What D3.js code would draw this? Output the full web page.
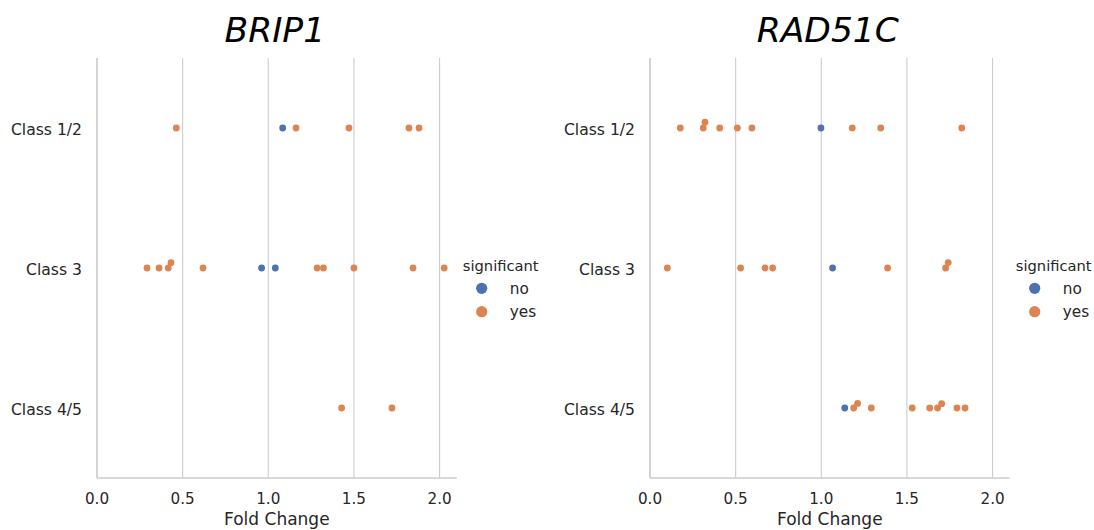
<!DOCTYPE html>
<html>
<head>
<meta charset="utf-8">
<script src="https://cdn.jsdelivr.net/npm/d3@7"></script>
<style>
  body { margin: 0; background: #fff; }
  text { font-family: "DejaVu Sans", sans-serif; fill: #262626; }
</style>
</head>
<body>
<svg id="chart" width="1094" height="530"></svg>
<script>
var classes = ["Class 1/2", "Class 3", "Class 4/5"];
var xTicks = [0, 0.5, 1.0, 1.5, 2.0];
var hueLevels = ["no", "yes"];
var hueColors = ["#4c72b0", "#dd8452"];

// BRIP1 variants
var brip1Class = [0, 0, 0, 0, 0, 0,
                  1, 1, 1, 1, 1, 1, 1, 1, 1, 1, 1, 1,
                  2, 2];
var brip1Fold  = [0.463, 1.084, 1.162, 1.471, 1.821, 1.880,
                  0.292, 0.362, 0.416, 0.432, 0.619, 0.961, 1.041, 1.285, 1.322, 1.500, 1.845, 2.027,
                  1.428, 1.722];
var brip1Sig   = ["yes", "no", "yes", "yes", "yes", "yes",
                  "yes", "yes", "yes", "yes", "yes", "no", "no", "yes", "yes", "yes", "yes", "yes",
                  "yes", "yes"];

// RAD51C variants
var rad51cClass = [0, 0, 0, 0, 0, 0, 0, 0, 0, 0,
                   1, 1, 1, 1, 1, 1, 1, 1,
                   2, 2, 2, 2, 2, 2, 2, 2, 2, 2];
var rad51cFold  = [0.177, 0.311, 0.321, 0.407, 0.510, 0.595, 0.998, 1.181, 1.347, 1.820,
                   0.101, 0.529, 0.671, 0.716, 1.066, 1.387, 1.726, 1.741,
                   1.137, 1.189, 1.212, 1.292, 1.531, 1.633, 1.679, 1.703, 1.792, 1.839];
var rad51cSig   = ["yes", "yes", "yes", "yes", "yes", "yes", "no", "yes", "yes", "yes",
                   "yes", "yes", "yes", "yes", "no", "yes", "yes", "yes",
                   "no", "yes", "yes", "yes", "yes", "yes", "yes", "yes", "yes", "yes"];

var svg = d3.select("#chart");
var yTop = 58, yBottom = 478, r = 3.4, minDist = 6;

function swarm(xs) {
  // simple beeswarm: place points in order of x, offset perpendicular to avoid overlap
  var order = d3.range(xs.length).sort(function(a, b) { return xs[a] - xs[b]; });
  var placed = [], offs = new Array(xs.length);
  order.forEach(function(i) {
    var cands = [0];
    placed.forEach(function(p) {
      var dx = xs[i] - p.x;
      if (Math.abs(dx) < minDist) {
        var dy = Math.sqrt(minDist * minDist - dx * dx);
        cands.push(p.y - dy, p.y + dy);
      }
    });
    cands.sort(function(a, b) { return Math.abs(a) - Math.abs(b) || a - b; });
    var best = cands.find(function(c) {
      return placed.every(function(p) {
        var dx = xs[i] - p.x, dy = c - p.y;
        return dx * dx + dy * dy >= minDist * minDist - 0.01;
      });
    });
    offs[i] = best;
    placed.push({x: xs[i], y: best});
  });
  return offs;
}

function panel(left, title, cls, fold, sig) {
  var x = d3.scaleLinear().domain([0, 2.1]).range([left, left + 359.7]);
  var y = d3.scaleBand().domain(classes).range([yTop, yBottom]);
  var g = svg.append("g");

  g.selectAll("line.grid").data(xTicks).enter().append("line")
    .attr("x1", function(d) { return x(d); }).attr("x2", function(d) { return x(d); })
    .attr("y1", yTop).attr("y2", yBottom)
    .attr("stroke", "#cccccc").attr("stroke-width", 1.1);

  g.append("line").attr("x1", x(0)).attr("x2", x(0)).attr("y1", yTop).attr("y2", yBottom)
    .attr("stroke", "#cccccc").attr("stroke-width", 1.3);
  g.append("line").attr("x1", x.range()[0]).attr("x2", x.range()[1]).attr("y1", yBottom).attr("y2", yBottom)
    .attr("stroke", "#cccccc").attr("stroke-width", 1.3);

  g.selectAll("text.xt").data(xTicks).enter().append("text")
    .attr("x", function(d) { return x(d); }).attr("y", 504)
    .attr("text-anchor", "middle").style("font-size", "15.2px")
    .text(function(d) { return d3.format(".1f")(d); });

  g.selectAll("text.yt").data(classes).enter().append("text")
    .attr("x", left - 15).attr("y", function(d) { return y(d) + y.bandwidth() / 2; })
    .attr("dy", "0.42em").attr("text-anchor", "end").style("font-size", "15.6px")
    .text(function(d) { return d; });

  g.append("text").attr("x", (x.range()[0] + x.range()[1]) / 2).attr("y", 525)
    .attr("text-anchor", "middle").style("font-size", "17px").text("Fold Change");

  g.append("text").attr("x", (x.range()[0] + x.range()[1]) / 2 - 2).attr("y", 42)
    .attr("text-anchor", "middle").style("font-size", "34.5px").style("font-style", "italic")
    .style("fill", "#000").text(title);

  var color = d3.scaleOrdinal().domain(hueLevels).range(hueColors);
  classes.forEach(function(c, ci) {
    var idx = d3.range(fold.length).filter(function(i) { return cls[i] === ci; });
    var px = idx.map(function(i) { return x(fold[i]); });
    var offs = swarm(px);
    idx.forEach(function(i, k) {
      g.append("circle")
        .attr("cx", px[k]).attr("cy", y(c) + y.bandwidth() / 2 + offs[k])
        .attr("r", r).attr("fill", color(sig[i]));
    });
  });

  // legend
  var lx = x.range()[1] + 25;
  g.append("text").attr("x", lx + 19).attr("y", 265.5).attr("dy", "0.35em")
    .attr("text-anchor", "middle").style("font-size", "14.7px").text("significant");
  hueLevels.forEach(function(h, i) {
    var ly = 288.3 + i * 23.4;
    g.append("circle").attr("cx", lx).attr("cy", ly).attr("r", 5.6).attr("fill", color(h));
    g.append("text").attr("x", lx + 28).attr("y", ly).attr("dy", "0.35em")
      .style("font-size", "15.3px").text(h);
  });
}

panel(97, "BRIP1", brip1Class, brip1Fold, brip1Sig);
panel(650, "RAD51C", rad51cClass, rad51cFold, rad51cSig);
</script>
</body>
</html>
